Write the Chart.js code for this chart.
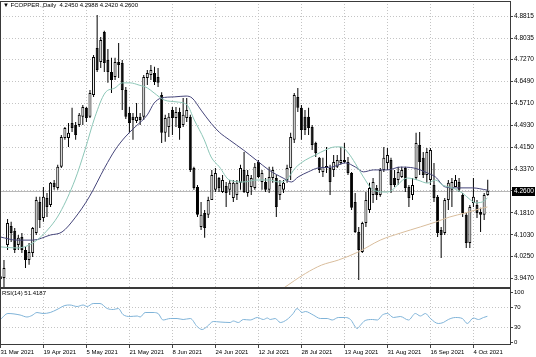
<!DOCTYPE html>
<html><head><meta charset="utf-8">
<script src="https://cdn.jsdelivr.net/npm/chart.js@4.4.1/dist/chart.umd.min.js"></script>
<style>
html,body{margin:0;padding:0;background:#fff;}
#wrap{position:relative;width:536px;height:357px;overflow:hidden;}
canvas{position:absolute;left:0;top:0;}
</style></head><body>
<div id="wrap"><canvas id="main" width="536" height="357"></canvas><canvas id="rsi" width="536" height="357"></canvas></div>
<script>
const symbolTitle = '\u25BC FCOPPER.,Daily';
const lastOHLC = [4.2450, 4.2988, 4.2420, 4.2600];
const rsiTitle = 'RSI(14)';
const rsiLast = 51.4187;

const opens = [3.955,3.949,4.067,4.134,4.117,4.067,4.095,4.049,4.013,4.038,4.109,4.220,4.163,4.234,4.209,4.288,4.270,4.345,4.448,4.448,
4.501,4.494,4.494,4.523,4.555,4.523,4.601,4.768,4.718,4.825,4.725,4.683,4.665,4.718,4.715,4.619,4.537,4.523,4.508,4.523,
4.523,4.661,4.672,4.679,4.665,4.601,4.466,4.487,4.547,4.519,4.540,4.494,4.519,4.523,4.341,4.273,4.131,4.181,4.174,4.227,
4.263,4.305,4.255,4.277,4.263,4.234,4.245,4.288,4.334,4.252,4.273,4.270,4.362,4.291,4.291,4.263,4.305,4.305,4.245,4.263,
4.298,4.341,4.441,4.594,4.555,4.523,4.523,4.487,4.430,4.377,4.327,4.341,4.341,4.334,4.345,4.359,4.362,4.362,4.323,4.220,
4.113,4.042,4.145,4.191,4.245,4.270,4.245,4.334,4.359,4.369,4.305,4.298,4.309,4.341,4.273,4.245,4.305,4.423,4.377,4.316,
4.298,4.280,4.238,4.120,4.109,4.227,4.263,4.273,4.291,4.245,4.174,4.074,4.216,4.209,4.184,4.174,4.245];
const highs = [3.975,4.013,4.159,4.149,4.127,4.102,4.109,4.060,4.074,4.131,4.238,4.238,4.273,4.252,4.291,4.298,4.352,4.458,4.487,4.501,
4.555,4.505,4.537,4.565,4.558,4.619,4.743,4.886,4.807,4.830,4.765,4.733,4.733,4.786,4.725,4.629,4.558,4.537,4.572,4.537,
4.672,4.690,4.708,4.701,4.697,4.611,4.530,4.537,4.558,4.558,4.555,4.590,4.590,4.530,4.345,4.280,4.220,4.191,4.238,4.334,
4.341,4.309,4.316,4.291,4.298,4.298,4.298,4.352,4.398,4.334,4.316,4.359,4.369,4.334,4.305,4.345,4.345,4.316,4.298,4.298,
4.352,4.466,4.608,4.626,4.565,4.547,4.555,4.494,4.434,4.380,4.377,4.416,4.352,4.387,4.387,4.416,4.430,4.380,4.327,4.252,
4.131,4.149,4.255,4.288,4.305,4.280,4.341,4.416,4.412,4.377,4.334,4.345,4.345,4.345,4.280,4.305,4.466,4.469,4.398,4.412,
4.412,4.359,4.245,4.131,4.234,4.298,4.305,4.316,4.305,4.252,4.181,4.209,4.305,4.227,4.199,4.252,4.2988];
const lows = [3.930,3.917,4.049,4.077,4.038,4.049,4.038,3.985,3.996,4.024,4.102,4.127,4.149,4.166,4.202,4.263,4.263,4.341,4.441,4.416,
4.469,4.441,4.487,4.494,4.505,4.519,4.594,4.683,4.697,4.683,4.644,4.608,4.654,4.661,4.547,4.515,4.466,4.441,4.501,4.494,
4.512,4.636,4.654,4.636,4.629,4.430,4.434,4.451,4.458,4.487,4.441,4.487,4.505,4.327,4.263,4.166,4.120,4.092,4.163,4.227,
4.255,4.255,4.252,4.202,4.245,4.220,4.227,4.263,4.252,4.238,4.245,4.263,4.305,4.263,4.255,4.252,4.288,4.166,4.227,4.252,
4.288,4.298,4.430,4.540,4.441,4.458,4.458,4.405,4.380,4.323,4.309,4.323,4.245,4.309,4.341,4.352,4.359,4.316,4.191,4.109,
3.942,4.038,4.131,4.181,4.216,4.227,4.238,4.327,4.334,4.252,4.273,4.280,4.305,4.255,4.202,4.227,4.298,4.316,4.305,4.288,
4.280,4.220,4.095,4.020,4.102,4.191,4.202,4.273,4.255,4.166,4.056,4.056,4.202,4.163,4.113,4.156,4.2420];
const closes = [3.945,3.985,4.145,4.109,4.049,4.092,4.049,4.013,4.042,4.127,4.227,4.156,4.238,4.202,4.288,4.273,4.345,4.451,4.483,4.466,
4.483,4.458,4.530,4.558,4.519,4.608,4.736,4.690,4.797,4.715,4.683,4.654,4.718,4.708,4.619,4.523,4.501,4.512,4.523,4.512,
4.665,4.679,4.690,4.647,4.644,4.466,4.519,4.523,4.519,4.540,4.483,4.530,4.547,4.334,4.270,4.174,4.174,4.127,4.227,4.316,
4.323,4.270,4.298,4.252,4.288,4.288,4.288,4.341,4.255,4.316,4.305,4.345,4.309,4.323,4.263,4.309,4.334,4.202,4.280,4.288,
4.341,4.451,4.601,4.555,4.476,4.476,4.483,4.423,4.394,4.334,4.345,4.348,4.291,4.362,4.369,4.369,4.369,4.323,4.199,4.113,
4.049,4.145,4.227,4.270,4.291,4.245,4.334,4.377,4.387,4.280,4.280,4.327,4.334,4.270,4.234,4.280,4.430,4.362,4.316,4.398,
4.405,4.234,4.109,4.102,4.227,4.288,4.291,4.298,4.263,4.181,4.074,4.202,4.238,4.181,4.174,4.245,4.2600];

const dateTickIndex = [0,12,24,36,48,60,72,84,96,108,120,132];
const dateTickLabels = ['31 Mar 2021','19 Apr 2021','5 May 2021','21 May 2021','8 Jun 2021','24 Jun 2021','12 Jul 2021','28 Jul 2021','13 Aug 2021','31 Aug 2021','16 Sep 2021','4 Oct 2021'];
const priceTicks = [4.8815,4.8035,4.7270,4.6490,4.5710,4.4930,4.4150,4.3370,4.2590,4.1810,4.1030,4.0250,3.9470];
const rsiTicks = [0,30,70,100];

const maFast = [[0,4.060],[4.6,4.056],[9.1,4.074],[13.9,4.131],[16.6,4.181],[20.8,4.298],[23.6,4.405],[26.4,4.523],[29.2,4.608],[32,4.626],[34,4.644],[36.2,4.644],[38.7,4.636],[41,4.626],[42.9,4.608],[45.7,4.583],[49.3,4.576],[52.1,4.565],[54.1,4.512],[56.9,4.441],[58.8,4.380],[61.1,4.345],[63.9,4.298],[67.8,4.291],[71.4,4.298],[75,4.298],[77.8,4.291],[79.8,4.298],[82.3,4.341],[85.1,4.369],[87.9,4.387],[90.7,4.405],[93.5,4.416],[95.1,4.416],[97.1,4.394],[99,4.358],[101.3,4.309],[104.1,4.262],[108,4.255],[113.6,4.305],[116.4,4.298],[119.2,4.287],[121.4,4.298],[123.4,4.280],[126.1,4.270],[128.9,4.252],[131.2,4.227],[132.6,4.217],[134.5,4.220],[135.9,4.234]];
const maSlow = [[0,4.095],[4.6,4.084],[9.1,4.084],[13.9,4.102],[17.2,4.113],[20.8,4.163],[24.8,4.238],[29.2,4.344],[32,4.405],[34.8,4.451],[37.6,4.487],[41,4.530],[42.9,4.572],[44.9,4.590],[48.5,4.594],[51.8,4.597],[53.5,4.590],[56,4.547],[58.8,4.500],[61.1,4.468],[63.9,4.441],[67.8,4.405],[71.4,4.369],[75,4.333],[78.9,4.305],[81.2,4.291],[83.1,4.309],[85.9,4.327],[88.7,4.341],[92.4,4.344],[96.3,4.359],[99.1,4.344],[101.3,4.327],[104.1,4.334],[108,4.334],[111.6,4.344],[115.3,4.341],[119.2,4.323],[121.4,4.309],[124.2,4.273],[128.1,4.270],[131.7,4.270],[135.9,4.262]];
const maLong = [[79,3.913],[85.1,3.965],[89.6,3.995],[94.3,4.013],[99.9,4.042],[106,4.084],[111.6,4.109],[117.2,4.131],[121.4,4.148],[125.3,4.166],[129.8,4.181],[134.5,4.198],[135.9,4.202]];
const rsiPoints = [[0,45],[2.1,57],[5.5,54],[7.4,50],[8.8,53],[10.2,59],[11.9,57],[13.9,59],[15.8,65],[18,73],[19.4,74],[21.4,71],[23.1,74],[24.2,71],[25.9,77],[27.8,77],[29.8,67],[31.5,65],[32.9,67],[34.2,55],[36.2,51],[38.2,52],[39,50],[40.4,59],[42.6,59],[44,57],[45.4,44],[47.4,47],[49.3,47],[51,45],[53,47],[54.9,31],[56.3,25],[57.7,31],[59.4,41],[61.3,40],[64.1,39],[65,42],[66.4,39],[67.8,45],[69.7,44],[71.7,49],[73.4,45],[74.5,48],[75.3,45],[76.7,47],[78.1,39],[80,45],[81.7,57],[82.8,67],[84.2,59],[85.1,61],[87.3,54],[89.3,47],[91.2,47],[92.6,44],[94.3,49],[96.3,49],[97.7,45],[99.6,27],[100.4,33],[101.8,43],[103.8,45],[105.2,44],[106.6,54],[108,57],[109.7,49],[111.6,51],[113.9,44],[115.8,57],[117.2,52],[118.6,57],[120,47],[122.2,37],[123.6,39],[125,45],[127,49],[128.9,47],[130.3,37],[132,48],[133.4,45],[134.8,49],[135.9,51.4]];

const FONT = "'Liberation Sans', Arial, sans-serif";
Chart.defaults.font.family = FONT;
Chart.defaults.color = '#000';
const X_MIN = -0.11, X_MAX = 142.49;
const MAIN_MIN = 3.9135, MAIN_MAX = 4.9355;

function xScale(showLabels) {
  return {
    type: 'linear', min: X_MIN, max: X_MAX, offset: false,
    afterBuildTicks: s => { s.ticks = dateTickIndex.map(v => ({value: v})); },
    afterFit: s => { s.height = showLabels ? 12 : 0; s.paddingLeft = 0; s.paddingRight = 0; },
    grid: { color: '#c4c4c4', offset: false, drawTicks: showLabels, tickLength: 3, tickColor: '#444', tickBorderDash: [] },
    border: { display: false, dash: [1, 2] },
    ticks: {
      display: showLabels, autoSkip: false, maxRotation: 0, minRotation: 0, align: 'start', padding: 1,
      font: { size: 6 }, color: '#000',
      callback: v => { const k = dateTickIndex.indexOf(v); return k >= 0 ? dateTickLabels[k] : ''; }
    }
  };
}
function frame(chart, ctx) {
  const a = chart.chartArea;
  ctx.save(); ctx.strokeStyle = '#3a3a3a'; ctx.lineWidth = 1;
  ctx.strokeRect(a.left + 0.5, a.top + 0.5, a.right - a.left - 1, a.bottom - a.top - 1);
  ctx.restore();
}

const mainDecor = {
  id: 'mainDecor',
  beforeDatasetsDraw(chart) {
    const {ctx, chartArea: a} = chart;
    const y = Math.round(chart.scales.y.getPixelForValue(lastOHLC[3])) + 0.5;
    ctx.save(); ctx.strokeStyle = '#b8b8b8'; ctx.lineWidth = 1;
    ctx.beginPath(); ctx.moveTo(a.left, y); ctx.lineTo(a.right, y); ctx.stroke(); ctx.restore();
  },
  afterDraw(chart) {
    const {ctx, chartArea: a} = chart;
    frame(chart, ctx);
    ctx.save();
    ctx.font = '6px ' + FONT; ctx.fillStyle = '#000'; ctx.textBaseline = 'middle'; ctx.textAlign = 'left';
    ctx.fillText(symbolTitle + '  ' + lastOHLC.map(v => v.toFixed(4)).join(' '), 3, 5.5);
    const y = Math.round(chart.scales.y.getPixelForValue(lastOHLC[3]));
    ctx.fillStyle = '#000'; ctx.fillRect(a.right + 1, y - 4, 23, 9);
    ctx.fillStyle = '#fff'; ctx.font = '6.5px ' + FONT;
    ctx.fillText(lastOHLC[3].toFixed(4), a.right + 3, y + 0.5);
    ctx.restore();
  }
};
const rsiDecor = {
  id: 'rsiDecor',
  afterDraw(chart) {
    const {ctx} = chart;
    frame(chart, ctx);
    ctx.save(); ctx.font = '6px ' + FONT; ctx.fillStyle = '#000'; ctx.textBaseline = 'middle';
    ctx.fillText(rsiTitle + ' ' + rsiLast.toFixed(4), 2, 293.5);
    ctx.restore();
  }
};

const bull = i => closes[i] >= opens[i];
new Chart(document.getElementById('main'), {
  type: 'bar',
  data: { datasets: [
    { type: 'line', data: maFast.map(p => ({x: p[0], y: p[1]})), borderColor: '#8cc6b7', borderWidth: 1, pointRadius: 0, cubicInterpolationMode: 'monotone', order: 1 },
    { type: 'line', data: maSlow.map(p => ({x: p[0], y: p[1]})), borderColor: '#45457a', borderWidth: 1, pointRadius: 0, cubicInterpolationMode: 'monotone', order: 1 },
    { type: 'line', data: maLong.map(p => ({x: p[0], y: p[1]})), borderColor: '#d9bd9c', borderWidth: 1, pointRadius: 0, cubicInterpolationMode: 'monotone', order: 1 },
    { data: opens.map((o, i) => ({x: i, y: [o, closes[i]]})), grouped: false, barThickness: 3, maxBarThickness: 3, minBarLength: 1,
      backgroundColor: c => bull(c.dataIndex) ? '#ffffff' : '#000000', borderColor: '#000', borderWidth: 1, borderSkipped: false, inflateAmount: 0, order: 2 },
    { data: highs.map((h, i) => ({x: i, y: [lows[i], h]})), grouped: false, barThickness: 1, maxBarThickness: 1,
      backgroundColor: '#000', borderWidth: 0, inflateAmount: 0, order: 3 }
  ]},
  options: {
    responsive: false, animation: false, events: [],
    layout: { padding: { top: 1, bottom: 69, left: 0, right: 0 } },
    plugins: { legend: { display: false }, tooltip: { enabled: false } },
    scales: {
      x: xScale(false),
      y: {
        type: 'linear', position: 'right', min: MAIN_MIN, max: MAIN_MAX, beginAtZero: false,
        afterBuildTicks: s => { s.ticks = priceTicks.map(v => ({value: v})); },
        afterFit: s => { s.width = 25; s.paddingTop = 0; s.paddingBottom = 0; },
        grid: { color: '#c4c4c4', drawTicks: true, tickLength: 2, tickColor: '#444', tickBorderDash: [] },
        border: { display: false, dash: [1, 2] },
        ticks: { font: { size: 6.5 }, color: '#000', padding: 1, callback: v => v === 4.2590 ? '' : v.toFixed(4) }
      }
    }
  },
  plugins: [mainDecor]
});

new Chart(document.getElementById('rsi'), {
  type: 'line',
  data: { datasets: [
    { data: rsiPoints.map(p => ({x: p[0], y: p[1]})), borderColor: '#7fb3d8', borderWidth: 1, pointRadius: 0, cubicInterpolationMode: 'monotone' }
  ]},
  options: {
    responsive: false, animation: false, events: [],
    layout: { padding: { top: 288, bottom: 0, left: 0, right: 0 } },
    plugins: { legend: { display: false }, tooltip: { enabled: false } },
    scales: {
      x: xScale(true),
      y: {
        type: 'linear', position: 'right', min: -6, max: 108,
        afterBuildTicks: s => { s.ticks = rsiTicks.map(v => ({value: v})); },
        afterFit: s => { s.width = 25; s.paddingTop = 0; s.paddingBottom = 0; },
        grid: { color: c => (c.tick && (c.tick.value === 30 || c.tick.value === 70)) ? '#c4c4c4' : 'rgba(0,0,0,0)', drawTicks: true, tickLength: 2, tickColor: '#444', tickBorderDash: [] },
        border: { display: false, dash: [1, 2] },
        ticks: { font: { size: 6 }, color: '#000', padding: 1, callback: v => String(v) }
      }
    }
  },
  plugins: [rsiDecor]
});
</script>
</body></html>
